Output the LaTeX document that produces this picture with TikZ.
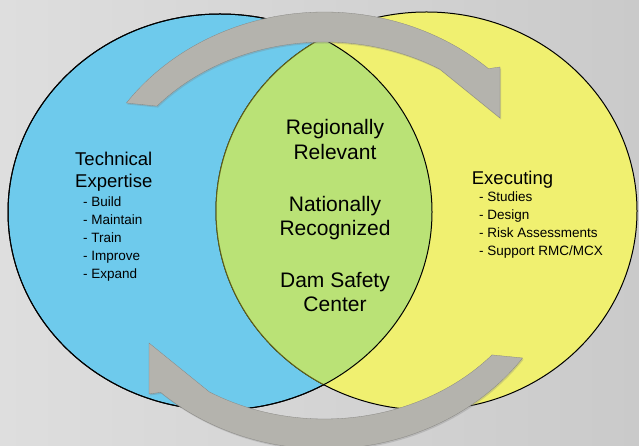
\documentclass[tikz,border=0pt]{standalone}
\usepackage{fontspec}
\setmainfont{Liberation Sans}
\usetikzlibrary{calc}
\usetikzlibrary{shadows}
\definecolor{expertiseblue}{RGB}{110,202,236}
\definecolor{executingyellow}{RGB}{240,240,112}
\definecolor{centergreen}{RGB}{186,226,118}
\definecolor{lensline}{RGB}{96,96,24}
\definecolor{arrowgray}{RGB}{180,179,173}
\definecolor{backleft}{RGB}{222,222,222}
\definecolor{backmiddle}{RGB}{236,236,236}
\definecolor{backright}{RGB}{202,202,202}
\newcommand*\cyclearrow{%
    \path[cycle arrow] (144.3:244pt and 218.5pt)% tail, outer edge
        arc[start angle=144.3, end angle=47.8, x radius=244pt, y radius=218.5pt]%
        -- (175.5pt,163.5pt) -- (175.5pt,112.5pt)% head
        -- (58.9:223pt and 188.5pt)% inner edge back to the tail
        arc[start angle=58.9, end angle=138.7, x radius=223pt, y radius=188.5pt]%
        -- cycle;%
}
\begin{document}
\begin{tikzpicture}
    [%
        x=1pt,%
        y=1pt,%
        circle edge/.style={%
            draw=black,%
            line width=1pt%
        },%
        heading/.style={%
            anchor=base west,%
            align=left,%
            inner sep=0pt,%
            font=\fontsize{18.5}{22}\selectfont%
        },%
        list entry/.style={%
            anchor=base west,%
            inner sep=0pt,%
            font=\fontsize{13.5}{16}\selectfont%
        },%
        center text/.style={%
            anchor=base,%
            align=center,%
            inner sep=0pt,%
            font=\fontsize{21}{24.5}\selectfont%
        },%
        cycle arrow/.style={%
            fill=arrowgray,%
            draw=arrowgray!75!black,%
            line width=0.3pt,%
            drop shadow={opacity=0.3, shadow xshift=1pt, shadow yshift=-1.5pt}%
        }%
    ]%
%
    \shade[left color=backleft, middle color=backmiddle, right color=backright] (0,0) rectangle (639,446);
    \useasboundingbox (0,0) rectangle (639,446);
%
    \coordinate (expertise) at (220,234);
    \coordinate (executing) at (426.5,235);
    \filldraw[circle edge, fill=expertiseblue] (expertise) ellipse [x radius=212pt, y radius=198pt];
    \filldraw[circle edge, fill=executingyellow] (executing) ellipse [x radius=210.5pt, y radius=199pt];
    \begin{scope}
        \clip (expertise) ellipse [x radius=212pt, y radius=198pt];
        \filldraw[fill=centergreen, draw=lensline, line width=1pt] (executing) ellipse [x radius=210.5pt, y radius=199pt];
    \end{scope}
    \draw[circle edge] (expertise) ellipse [x radius=212pt, y radius=198pt];
%
    \begin{scope}[shift={(324.5,215.5)}]
        \cyclearrow
    \end{scope}
    \begin{scope}[shift={(324.5,215.5)}, rotate=180]
        \cyclearrow
    \end{scope}
%
    % base of a two line node is the baseline of its last line
    \node[heading] (expertise-head) at (75,258) {Technical\\Expertise};
    \foreach \task [count=\k] in {Build,Maintain,Train,Improve,Expand}
        \node[list entry] (expertise-\k) at (83,{239.3-(\k-1)*17.9}) {- \task};
%
    \node[heading] (executing-head) at (471.7,261) {Executing};
    \foreach \task [count=\k] in {Studies,Design,Risk Assessments,Support RMC/MCX}
        \node[list entry] (executing-\k) at (479,{244.3-(\k-1)*17.8}) {- \task};
%
    \node[center text] (center-1) at (335,286.7) {Regionally\\Relevant};
    \node[center text] (center-2) at (335,210) {Nationally\\Recognized};
    \node[center text] (center-3) at (335,134.3) {Dam Safety\\Center};
\end{tikzpicture}
\end{document}
